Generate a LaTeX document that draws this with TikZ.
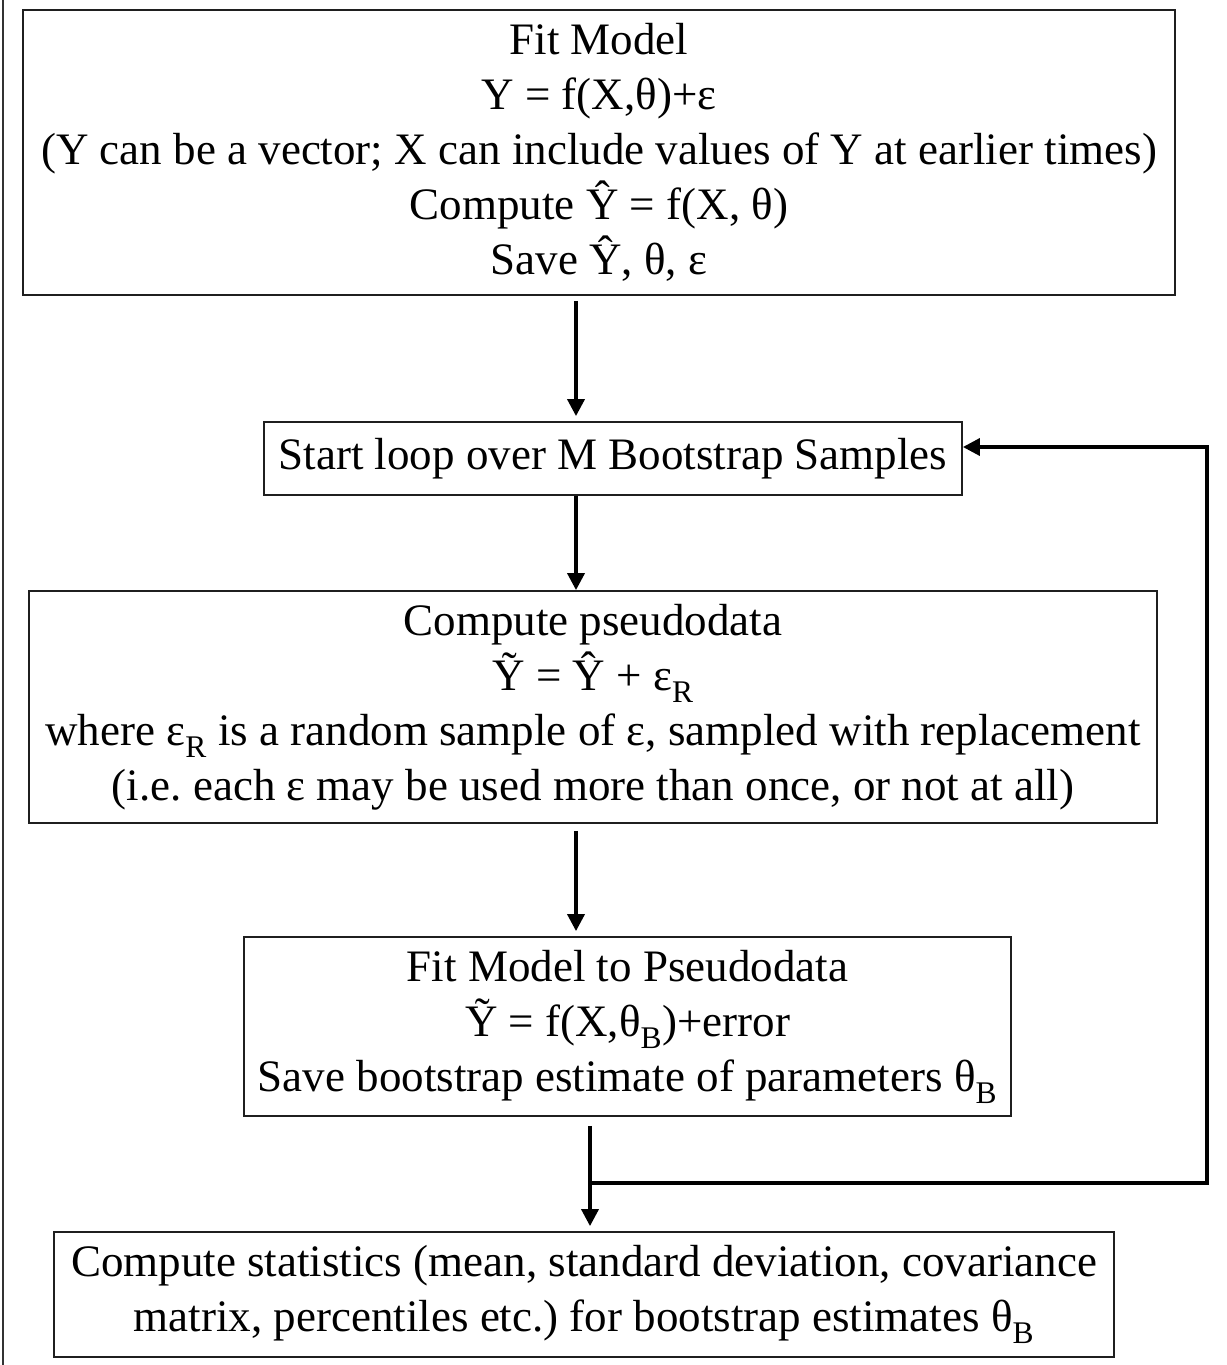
\documentclass[tikz,border=0pt]{standalone}
\usepackage{fontspec}
\setmainfont{Liberation Serif}
\usetikzlibrary{arrows.meta}

\newcommand{\lowsub}[1]{\textsubscript{#1}}

\tikzset{
  flowbox/.style={draw=black!88, line width=1.8pt, inner sep=0pt, align=center,
    font=\frenchspacing\fontsize{45}{55}\selectfont, text=black},
  flowarrow/.style={draw=black, line width=3.6pt, line join=miter,
    -{Triangle[length=17pt,width=17pt]}},
}

\begin{document}
\begin{tikzpicture}[x=1pt,y=-1pt]
  \useasboundingbox (0,0) rectangle (1226,1365);

  % frame edge on the left
  \draw[line width=1.6pt, black!80] (3,0) -- (3,1365);

  % process boxes
  \node[flowbox, minimum width=1152pt, minimum height=285pt] (fit) at (599,152.5)
    {Fit Model\\
     Y = f(X,θ)+ε\\
     (Y can be a vector; X can include values of Y at earlier times)\\
     Compute Ŷ = f(X, θ)\\
     Save Ŷ, θ, ε};

  \node[flowbox, minimum width=698pt, minimum height=73pt] (loop) at (613,458.5)
    {Start loop over M Bootstrap Samples};

  \node[flowbox, minimum width=1128pt, minimum height=232pt] (pseudo) at (593,707)
    {Compute pseudodata\\
     Ỹ = Ŷ + ε\lowsub{R}\\
     where ε\lowsub{R} is a random sample of ε, sampled with replacement\\
     (i.e. each ε may be used more than once, or not at all)};

  \node[flowbox, minimum width=767pt, minimum height=179pt] (refit) at (627.5,1026.5)
    {Fit Model to Pseudodata\\
     Ỹ = f(X,θ\lowsub{B})+error\\
     Save bootstrap estimate of parameters θ\lowsub{B}};

  \node[flowbox, minimum width=1060pt, minimum height=125pt] (stats) at (584,1294.5)
    {Compute statistics (mean, standard deviation, covariance\\
     matrix, percentiles etc.) for bootstrap estimates θ\lowsub{B}};

  % guide points for the connectors
  \coordinate (ax) at (576,0);
  \coordinate (bx) at (590,0);
  \coordinate (jn) at (590,1183);
  \coordinate (rc) at (1207,1183);
  \coordinate (rt) at (1207,447);

  % main flow
  \draw[flowarrow, shorten <=5pt, shorten >=5pt] (fit.south -| ax) -- (loop.north -| ax);
  \draw[flowarrow] (loop.south -| ax) -- (pseudo.north -| ax);
  \draw[flowarrow, shorten <=7pt, shorten >=5pt] (pseudo.south -| ax) -- (refit.north -| ax);
  \draw[flowarrow, shorten <=9pt, shorten >=5pt] (refit.south -| bx) -- (stats.north -| bx);

  % loop back to the start of the bootstrap loop
  \draw[flowarrow] (jn) -- (rc) -- (rt) -- (loop.east |- rt);
\end{tikzpicture}
\end{document}
